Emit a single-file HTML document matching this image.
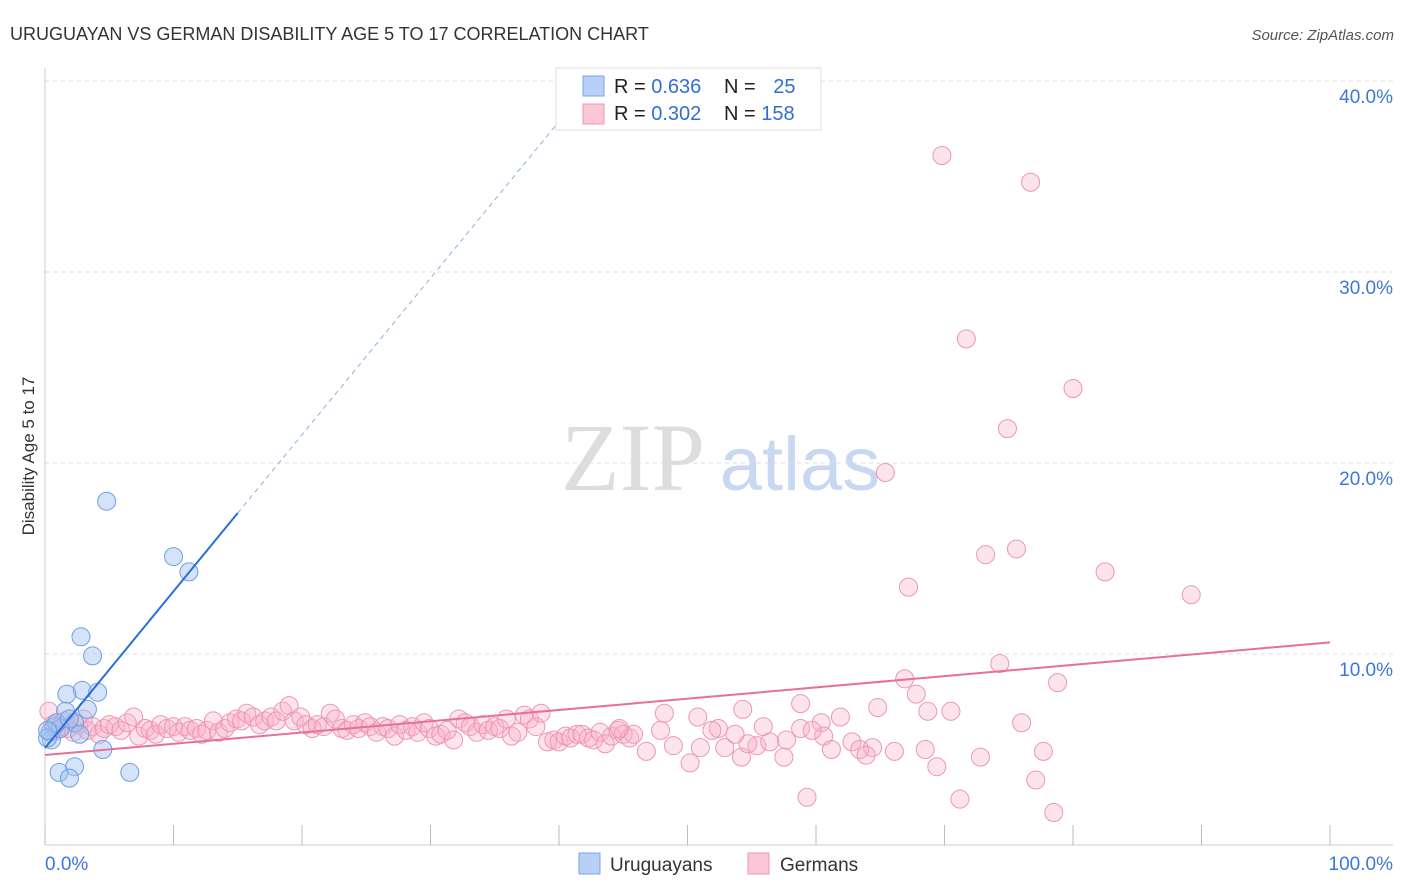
<!DOCTYPE html>
<html><head><meta charset="utf-8"><style>
body{margin:0;background:#fff;font-family:"Liberation Sans",sans-serif;}
svg{display:block}
</style></head><body>
<svg id="chart" width="1406" height="892">
<text x="10" y="40" font-size="18" fill="#333">URUGUAYAN VS GERMAN DISABILITY AGE 5 TO 17 CORRELATION CHART</text>
<text x="1394" y="40" font-size="15" fill="#555" font-style="italic" text-anchor="end">Source: ZipAtlas.com</text>
<text x="34" y="456" font-size="17" fill="#333" text-anchor="middle" transform="rotate(-90 34 456)">Disability Age 5 to 17</text>
<g>
<text x="633" y="490" font-size="96" font-family="Liberation Serif,serif" fill="#ddd" text-anchor="middle">ZIP</text>
<text x="800" y="490" font-size="76" fill="#c8d8f0" text-anchor="middle">atlas</text>
</g>
<g id="grid"></g><g id="axes"></g><g id="pts"></g><g id="lines"></g>
<g>
<rect x="556" y="68" width="265" height="62" fill="#fff" stroke="#ddd"/>
<rect x="583" y="76" width="21" height="20" fill="#b8d0f5" stroke="#7aa5e6"/>
<rect x="583" y="104" width="21" height="20" fill="#fbc6d6" stroke="#ec97b4"/>
<text x="614" y="93" font-size="20" fill="#222">R = <tspan fill="#2f6fd6">0.636</tspan></text>
<text x="724" y="93" font-size="20" fill="#222">N = <tspan fill="#2f6fd6" dx="12">25</tspan></text>
<text x="614" y="120" font-size="20" fill="#222">R = <tspan fill="#2f6fd6">0.302</tspan></text>
<text x="724" y="120" font-size="20" fill="#222">N = <tspan fill="#2f6fd6">158</tspan></text>
</g>
<g>
<rect x="579" y="853" width="21" height="21" fill="#b8d0f5" stroke="#7aa5e6"/>
<text x="610" y="871" font-size="19" fill="#333">Uruguayans</text>
<rect x="748" y="853" width="21" height="21" fill="#fbc6d6" stroke="#ec97b4"/>
<text x="780" y="871" font-size="19" fill="#333">Germans</text>
</g>
</svg>
<script>
const yTicks=[10,20,30,40];
const yTickLabels=["10.0%","20.0%","30.0%","40.0%"];
const xTicks=[0,10,20,30,40,50,60,70,80,90,100];
const uruX=[4.8,10.0,11.2,2.8,3.7,2.9,1.7,4.1,3.3,1.6,2.3,0.7,0.4,2.7,4.5,1.1,2.3,1.9,6.6,0.5,0.2,1.2,0.9,1.9,0.2];
const uruY=[18.0,15.1,14.3,10.9,9.9,8.1,7.9,8.0,7.1,7.0,6.4,6.2,5.9,5.8,5.0,3.8,4.1,3.5,3.8,5.5,5.6,6.1,6.4,6.6,6.0];
const gerX=[0.3,0.6,0.9,1.2,1.5,1.8,2.2,2.6,3.0,3.3,3.7,4.2,4.6,5.0,5.5,5.9,6.4,6.9,7.3,7.8,8.2,8.6,9.0,9.5,10.0,10.4,10.9,11.3,11.8,12.2,12.6,13.1,13.5,14.0,14.4,14.9,15.3,15.7,16.2,16.7,17.1,17.6,18.0,18.5,19.0,19.4,19.9,20.3,20.8,21.2,21.7,22.2,22.6,23.1,23.5,24.0,24.4,24.9,25.3,25.8,26.3,26.7,27.2,27.6,28.1,28.6,29.0,29.5,29.9,30.4,30.8,31.3,31.8,32.2,32.7,33.1,33.6,34.1,34.5,35.0,35.4,35.9,36.3,36.8,37.3,37.7,38.2,38.6,39.1,39.6,40.0,40.5,40.9,41.4,41.8,42.3,42.7,43.2,43.6,44.1,44.6,45.0,45.5,
69.8,76.7,71.7,80.0,74.9,65.4,75.6,73.2,82.5,67.2,89.2,74.3,66.9,78.8,67.8,58.8,64.8,68.7,70.5,76.0,54.3,48.2,50.8,61.9,60.4,55.9,58.8,60.6,62.8,64.4,68.5,66.1,77.7,72.8,69.4,77.1,59.3,71.2,78.5,50.2,54.2,57.5,61.2,63.4,63.9,48.9,51.0,52.9,55.4,56.4,57.7,59.7,52.4,54.7,46.8,47.9,45.8,44.7,51.9,53.7];
const gerY=[7.0,6.3,6.0,6.2,6.5,6.1,5.9,6.3,6.6,6.0,6.2,5.8,6.1,6.3,6.2,6.0,6.4,6.7,5.7,6.1,6.0,5.8,6.3,6.1,6.2,5.9,6.2,6.0,6.1,5.8,6.0,6.5,5.9,6.1,6.4,6.6,6.5,6.9,6.7,6.3,6.5,6.7,6.5,7.0,7.3,6.5,6.7,6.3,6.1,6.3,6.2,6.9,6.6,6.1,6.0,6.3,6.1,6.4,6.2,5.9,6.2,6.1,5.7,6.3,6.0,6.2,5.9,6.4,6.1,5.7,5.8,6.0,5.5,6.6,6.4,6.2,5.9,6.3,6.0,6.2,6.1,6.6,5.7,5.9,6.8,6.6,6.2,6.9,5.4,5.5,5.4,5.7,5.6,5.8,5.8,5.6,5.5,5.9,5.3,5.7,6.0,5.8,5.6,
36.1,34.7,26.5,23.9,21.8,19.5,15.5,15.2,14.3,13.5,13.1,9.5,8.7,8.5,7.9,7.4,7.2,7.0,7.0,6.4,7.1,6.9,6.7,6.7,6.4,6.2,6.1,5.7,5.4,5.1,5.0,4.9,4.9,4.6,4.1,3.4,2.5,2.4,1.7,4.3,4.6,4.6,5.0,5.0,4.7,5.2,5.1,5.1,5.2,5.4,5.5,6.0,6.1,5.3,4.9,6.0,5.8,6.1,6.0,5.8];
const uruFit=[5.08,0.82];
const gerFit=[4.71,0.059];
const NS="http://www.w3.org/2000/svg";
const X=v=>45+v*12.85, Y=v=>845-v*19.1;
function mk(tag,attrs,parent){const e=document.createElementNS(NS,tag);for(const k in attrs)e.setAttribute(k,attrs[k]);document.getElementById(parent).appendChild(e);return e;}
yTicks.forEach((t,i)=>{
 const l=mk('line',{x1:45,x2:1393,y1:Y(t),y2:Y(t),stroke:'#ddd','stroke-dasharray':'4,4'},'grid');
 
 
 const tx=mk('text',{x:1393,y:Y(t)+22,'font-size':19,fill:'#3b78d8','text-anchor':'end'},'grid');
 tx.textContent=yTickLabels[i];
 
 
});
const ax=mk('line',{x1:45,x2:1393,y1:845,y2:845,stroke:'#ccc'},'axes');


const ay=mk('line',{x1:45,x2:45,y1:68,y2:845,stroke:'#ccc'},'axes');


xTicks.forEach(t=>{
 const l=mk('line',{x1:X(t),x2:X(t),y1:825,y2:845,stroke:'#bbb'},'axes');
 
 
});
const x0=mk('text',{x:45,y:870,'font-size':19,fill:'#3b78d8'},'axes');x0.textContent='0.0%';


const x1=mk('text',{x:1393,y:870,'font-size':19,fill:'#3b78d8','text-anchor':'end'},'axes');x1.textContent='100.0%';


gerX.forEach((v,i)=>{
 const c=mk('circle',{cx:X(v),cy:Y(gerY[i]),r:9,fill:'rgba(248,175,200,0.35)',stroke:'#ec97b4','stroke-width':1},'pts');
 
 
});
uruX.forEach((v,i)=>{
 const c=mk('circle',{cx:X(v),cy:Y(uruY[i]),r:9,fill:'rgba(160,192,240,0.45)',stroke:'#6f9ee3','stroke-width':1},'pts');
 
 
});
const bl=mk('line',{x1:X(0),y1:Y(uruFit[0]),x2:X(15),y2:Y(uruFit[0]+uruFit[1]*15),stroke:'#2a6fd8','stroke-width':2},'lines');


const bd=mk('line',{x1:X(15),y1:Y(uruFit[0]+uruFit[1]*15),x2:X(40.3),y2:Y(uruFit[0]+uruFit[1]*40.3),stroke:'#8fb0e0','stroke-width':1,'stroke-dasharray':'5,4'},'lines');


const pl=mk('line',{x1:X(0),y1:Y(gerFit[0]),x2:X(100),y2:Y(gerFit[0]+gerFit[1]*100),stroke:'#e6709a','stroke-width':2},'lines');


</script>
</body></html>
